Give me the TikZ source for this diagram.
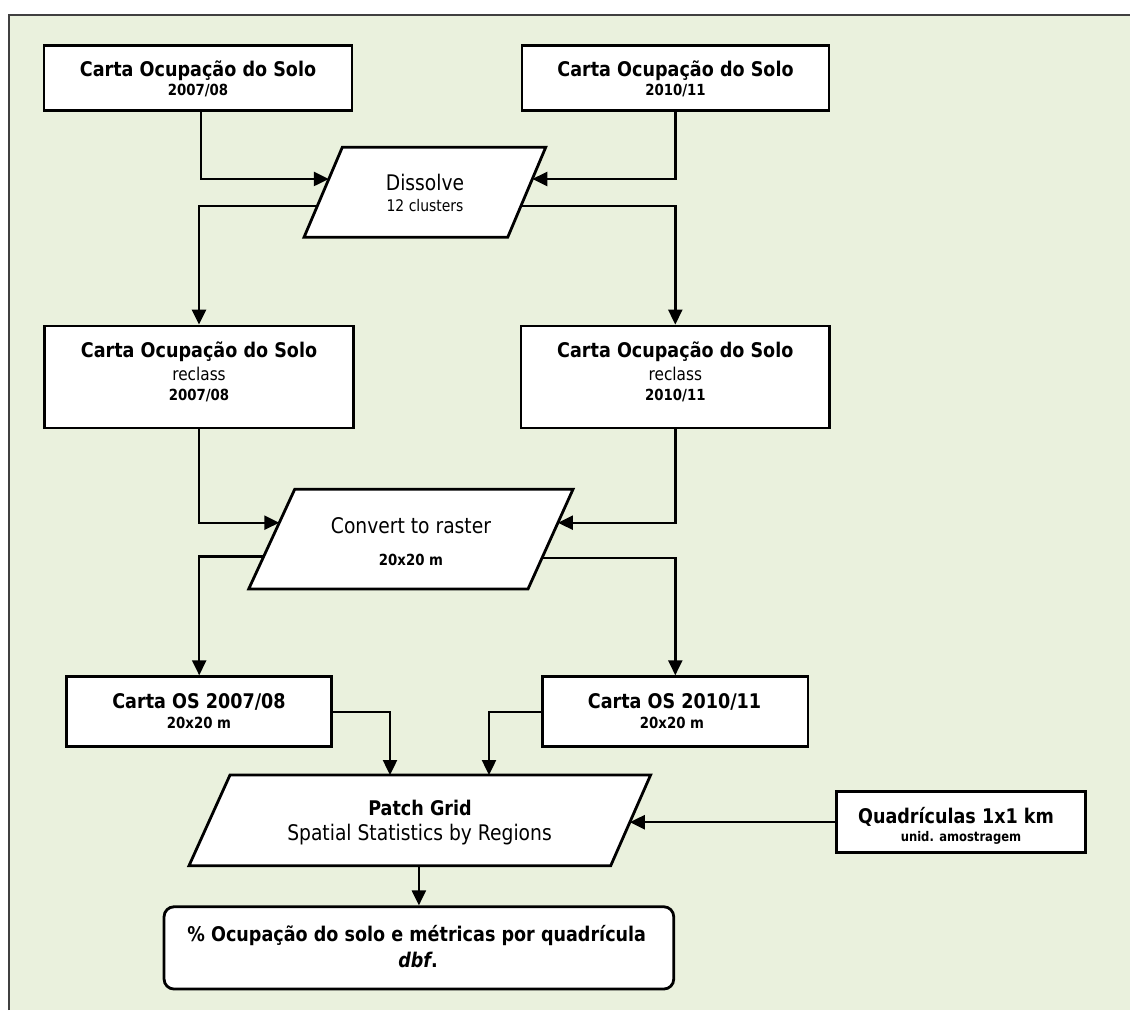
\documentclass[tikz,border=0pt]{standalone}
\usepackage{fontspec}
\setmainfont{DejaVu Sans}[FakeStretch=0.87]
\usetikzlibrary{arrows.meta,calc}
\definecolor{bg}{HTML}{EAF1DD}
\newcommand{\fs}[1]{\fontsize{#1}{#1}\selectfont}
\begin{document}
\begin{tikzpicture}[x=1pt,y=-1pt,
  box/.style={draw, line width=2.8pt, fill=white, inner sep=0pt},
  conn/.style={line width=2.4pt, -{Triangle[length=15pt,width=14pt]}},
  para/.style={draw, line width=2.8pt, fill=white, line join=miter},
  ln/.style={anchor=base, inner sep=0pt},
  ttl/.style={ln, font=\fs{20.2}\bfseries},
  sbb/.style={ln, font=\fs{15.3}\bfseries},
  mdr/.style={ln, font=\fs{21.5}}]
\useasboundingbox (0,0) rectangle (1130,1010);
\fill[bg] (9,15) rectangle (1130,1010);
\draw[black!75, line width=2pt] (9,1010) -- (9,15) -- (1130,15);

% top boxes
\node[box, minimum width=308pt, minimum height=64.6pt] (b1) at (198,78) {};
\node[ttl] (b1t) at (198,76.4) {Carta Ocupação do Solo};
\node[sbb] (b1s) at (198,95.5) {2007/08};
\node[box, minimum width=307pt, minimum height=64.6pt] (b2) at (675.5,78) {};
\node[ttl] (b2t) at (675.5,76.4) {Carta Ocupação do Solo};
\node[sbb] (b2s) at (675.5,95.5) {2010/11};

% Dissolve
\coordinate (d1) at (342.3,147.3);
\coordinate (d2) at (545.7,147.3);
\coordinate (d3) at (507.7,237.3);
\coordinate (d4) at (304,237.3);
\draw[para] (d1)--(d2)--(d3)--(d4)--cycle;
\node[mdr] (dis) at (425,190) {Dissolve};
\node[ln, font=\fs{16}] (dis2) at (425,211.7) {12 clusters};

% reclass boxes
\node[box, minimum width=309pt, minimum height=102pt] (b3) at (199,377) {};
\node[ttl] (b3t) at (199,357.3) {Carta Ocupação do Solo};
\node[ln, font=\fs{17.6}] (b3r) at (199,380) {reclass};
\node[sbb] (b3s) at (199,400.7) {2007/08};
\node[box, minimum width=308.5pt, minimum height=102pt] (b4) at (675.3,377) {};
\node[ttl] (b4t) at (675.3,357.3) {Carta Ocupação do Solo};
\node[ln, font=\fs{17.6}] (b4r) at (675.3,380) {reclass};
\node[sbb] (b4s) at (675.3,400.7) {2010/11};

\draw[conn] ([xshift=3pt]b1.south) |- ($(d1)!0.352!(d4)$);
\draw[conn] (b2.south) |- ($(d2)!0.352!(d3)$);
\draw[conn] ($(d1)!0.652!(d4)$) -| (b3.north);
\draw[conn] ($(d2)!0.652!(d3)$) -| (b4.north);

% Convert
\coordinate (c1) at (294.7,489.3);
\coordinate (c2) at (573,489.3);
\coordinate (c3) at (528,589);
\coordinate (c4) at (248.7,589);
\draw[para] (c1)--(c2)--(c3)--(c4)--cycle;
\node[mdr] (cv) at (411,533.3) {Convert to raster};
\node[sbb] (cv2) at (411,565) {20x20 m};

% raster boxes
\node[box, minimum width=265pt, minimum height=70pt] (os1) at (199.2,711.7) {};
\node[ttl] (os1t) at (199,708.3) {Carta OS 2007/08};
\node[sbb] (os1s) at (199,728.3) {20x20 m};
\node[box, minimum width=265.4pt, minimum height=70pt] (os2) at (675.3,711.7) {};
\node[ttl] (os2t) at (674.5,708.3) {Carta OS 2010/11};
\node[sbb] (os2s) at (672,728.3) {20x20 m};

\draw[conn] (b3.south) |- ($(c1)!0.335!(c4)$);
\draw[conn] (b4.south) |- ($(c2)!0.335!(c3)$);
\draw[conn] ($(c1)!0.675!(c4)$) -| (os1.north);
\draw[conn] ($(c2)!0.688!(c3)$) -| (os2.north);

% Patch grid
\coordinate (p1) at (230,775);
\coordinate (p2) at (650.6,775);
\coordinate (p3) at (610.7,865.7);
\coordinate (p4) at (189,865.7);
\draw[para] (p1)--(p2)--(p3)--(p4)--cycle;
\node[ttl] (pg) at (420,815) {Patch Grid};
\node[mdr] (pg2) at (419.5,840) {Spatial Statistics by Regions};
\coordinate (pin1) at (390,775);
\coordinate (pin2) at (489,775);
\draw[conn] (os1.east) -| (pin1);
\draw[conn] (os2.west) -| (pin2);

% Quadriculas
\node[box, minimum width=249pt, minimum height=61pt] (q) at (961.2,822.2) {};
\node[ttl] (qt) at (956,823.3) {Quadrículas 1x1 km};
\begin{scope}
  \clip (840,826) rectangle (1082,843.2);
  \node[ln, font=\fs{13.3}\bfseries] (qs) at (961,841.7) {unid. amostragem};
\end{scope}
\coordinate (pq) at ($(p2)!0.521!(p3)$);
\draw[conn] (q.west) -- (q.west -| pq);

% result
\node[box, rounded corners=10pt, minimum width=509.7pt, minimum height=82.3pt] (res) at (418.9,947.9) {};
\node[ttl] (rt) at (416.7,941.7) {\% Ocupação do solo e métricas por quadrícula};
\node[ttl] (rt2) at (418,967.3) {\textit{dbf}.};
\draw[conn] (res.north |- p4) -- (res.north);
\end{tikzpicture}
\end{document}
